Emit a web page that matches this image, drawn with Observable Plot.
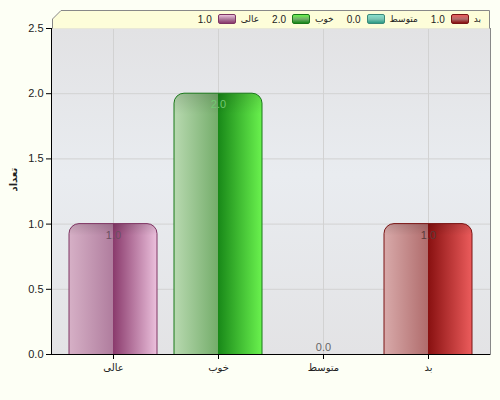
<!DOCTYPE html>
<html>
<head>
<meta charset="utf-8">
<script src="https://cdn.jsdelivr.net/npm/d3@7"></script>
<script src="https://cdn.jsdelivr.net/npm/@observablehq/plot@0.6"></script>
<style>
  html, body { margin: 0; padding: 0; background: #fdfff5; }
  #wrap { position: relative; width: 500px; height: 400px; font-family: "Liberation Sans", "DejaVu Sans", sans-serif; }
  #legend { position: absolute; left: 52px; top: 10px; width: 438px; height: 18px; }
  #legend svg { position: absolute; left: 0; top: 0; }
  #legendItems { position: absolute; right: 9px; top: 2px; display: flex; direction: rtl; gap: 13px; font-size: 10px; color: #222; align-items: center; height: 14px; }
  .item { display: flex; direction: rtl; align-items: center; }
  .lab { font-size: 9px; margin-left: 5px; }
  .sw { width: 16px; height: 8px; border-radius: 2px; border: 1px solid; margin-left: 6px; }
</style>
</head>
<body>
<div id="wrap">
  <div id="chart"></div>
  <div id="legend">
    <svg width="438" height="19"><path d="M0.5,18.5 L0.5,9 L9,0.5 L437.5,0.5 L437.5,18.5" fill="#fdfdd9" stroke="#888"/></svg>
    <div id="legendItems"></div>
  </div>
</div>
<script>
const categories = ["عالی", "خوب", "متوسط", "بد"];
const values = [1.0, 2.0, 0.0, 1.0];
const yTicks = [0, 0.5, 1.0, 1.5, 2.0, 2.5];
const yLabel = "تعداد";

const palette = {
  "عالی": {l0: "#d6b0c6", l1: "#b07d9e", r0: "#8a3a6c", r1: "#ebc0dc", stroke: "#7e3463", label: "#6a5060"},
  "خوب": {l0: "#b8d9b0", l1: "#74ad6a", r0: "#188818", r1: "#6af24e", stroke: "#187818", label: "#72c872"},
  "متوسط": {l0: "#b8e2d8", l1: "#7cc4b4", r0: "#2a9a84", r1: "#8ae0cc", stroke: "#3a8a7a", label: "#666"},
  "بد": {l0: "#d8aaaa", l1: "#b06c6c", r0: "#881010", r1: "#ec5c5c", stroke: "#7a1414", label: "#5a3a3a"}
};

const data = categories.map((c, i) => ({category: c, value: values[i], idx: i}));
const nonZero = data.filter(d => d.value > 0);

const chart = Plot.plot({
  width: 500,
  height: 400,
  marginLeft: 51,
  marginRight: 10,
  marginTop: 28,
  marginBottom: 46,
  style: {background: "transparent", fontFamily: "'Liberation Sans', 'DejaVu Sans', sans-serif", fontSize: "10px", color: "#222"},
  x: {domain: categories, padding: 0.165, label: null},
  y: {domain: [0, 2.5], label: null},
  color: {type: "identity"},
  marks: [
    Plot.frame({fill: "url(#bgGrad)", stroke: "#888"}),
    Plot.gridY(yTicks, {stroke: "#d2d2d2", strokeOpacity: 1}),
    Plot.gridX(categories, {stroke: "#d2d2d2", strokeOpacity: 1}),
    Plot.barY(nonZero, {
      x: "category", y1: -0.3, y2: "value",
      fill: d => `url(#barGrad${d.idx})`,
      rx: 10, ry: 10,
      clip: true
    }),
    Plot.barY(nonZero, {
      x: "category", y1: -0.3, y2: "value",
      fill: "url(#topShade)",
      stroke: d => palette[d.category].stroke,
      strokeWidth: 1,
      rx: 10, ry: 10,
      clip: true
    }),
    Plot.text(nonZero, {
      x: "category", y: "value", text: d => d.value.toFixed(1), dy: 11,
      fill: d => palette[d.category].label, fontSize: 11
    }),
    Plot.text(data.filter(d => d.value === 0), {
      x: "category", y: "value", text: d => d.value.toFixed(1), dy: -7,
      fill: d => palette[d.category].label, fontSize: 11
    }),
    Plot.ruleY([0], {stroke: "#000"}),
    Plot.frame({anchor: "left", stroke: "#000"}),
    Plot.axisY(yTicks, {tickFormat: d => d.toFixed(1), tickSize: 5, fontSize: 11, label: null, stroke: "#000", tickPadding: 3}),
    Plot.axisX({tickSize: 5, fontSize: 10, label: null, stroke: "#000"}),
    Plot.text([yLabel], {frameAnchor: "left", dx: -38, rotate: -90, text: d => d, fontWeight: "bold", fontSize: 10, fill: "#222"})
  ]
});

// gradients
const ns = "http://www.w3.org/2000/svg";
const defs = document.createElementNS(ns, "defs");
let html = `<linearGradient id="bgGrad" x1="0" y1="0" x2="0" y2="1">
  <stop offset="0" stop-color="#e2e2e4"/><stop offset="0.45" stop-color="#e9ecf0"/><stop offset="1" stop-color="#e3e3e5"/></linearGradient>
  <linearGradient id="topShade" x1="0" y1="0" x2="0" y2="1">
  <stop offset="0" stop-color="#000" stop-opacity="0.12"/><stop offset="0.07" stop-color="#000" stop-opacity="0"/><stop offset="1" stop-color="#000" stop-opacity="0"/></linearGradient>`;
data.forEach(d => {
  const p = palette[d.category];
  html += `<linearGradient id="barGrad${d.idx}" x1="0" y1="0" x2="1" y2="0">
    <stop offset="0" stop-color="${p.l0}"/><stop offset="0.5" stop-color="${p.l1}"/>
    <stop offset="0.5" stop-color="${p.r0}"/><stop offset="1" stop-color="${p.r1}"/></linearGradient>`;
});
defs.innerHTML = html;
chart.insertBefore(defs, chart.firstChild);
document.getElementById("chart").appendChild(chart);

// legend
const li = document.getElementById("legendItems");
[...data].reverse().forEach(d => {
  const p = palette[d.category];
  const item = document.createElement("div");
  item.className = "item";
  const lab = document.createElement("span"); lab.className = "lab"; lab.textContent = d.category;
  const sw = document.createElement("span"); sw.className = "sw";
  sw.style.background = `linear-gradient(to bottom, ${p.r1}, ${p.l1} 50%, ${p.r0})`;
  sw.style.borderColor = p.stroke;
  const val = document.createElement("span"); val.textContent = d.value.toFixed(1);
  item.append(lab, sw, val);
  li.appendChild(item);
});
</script>
</body>
</html>
